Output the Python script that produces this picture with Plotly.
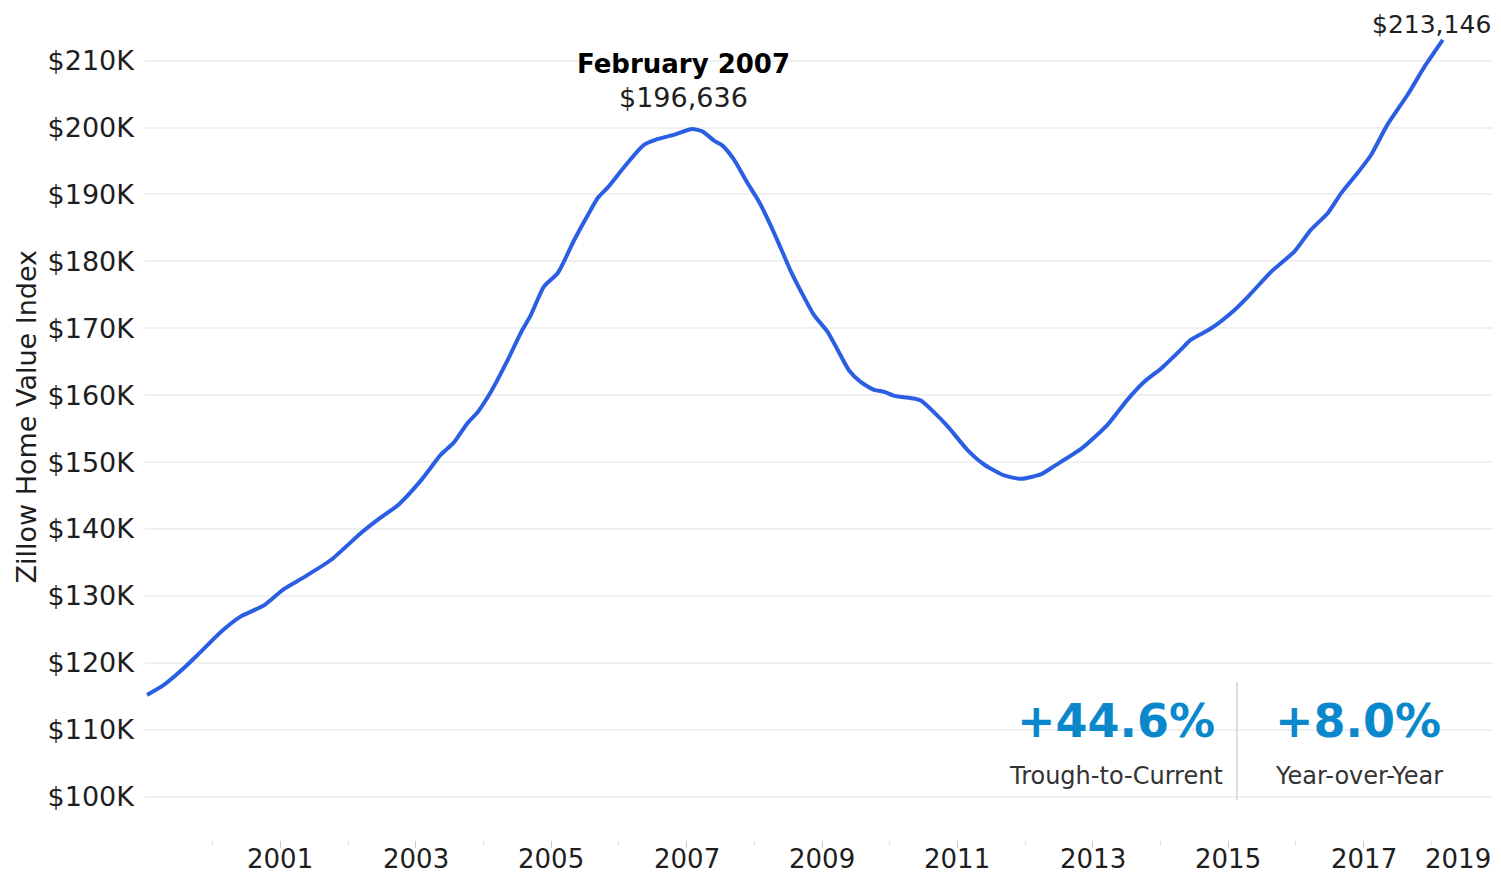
import plotly.graph_objects as go

# ---- data ----
years = [1999.03, 1999.28, 1999.53, 1999.78, 2000.12, 2000.41, 2000.76, 2001.05, 2001.35, 2001.75,
         2002.19, 2002.44, 2002.74, 2003.08, 2003.37, 2003.56, 2003.77, 2003.91, 2004.11, 2004.36,
         2004.55, 2004.70, 2004.89, 2005.10, 2005.34, 2005.54, 2005.69, 2005.84, 2006.07, 2006.37,
         2006.58, 2006.81, 2007.08, 2007.24, 2007.41, 2007.53, 2007.70, 2007.90, 2008.07, 2008.25,
         2008.39, 2008.54, 2008.69, 2008.88, 2009.08, 2009.23, 2009.40, 2009.57, 2009.77, 2009.92,
         2010.07, 2010.36, 2010.46, 2010.66, 2010.86, 2011.15, 2011.40, 2011.69, 2011.94, 2012.24,
         2012.43, 2012.83, 2013.22, 2013.51, 2013.76, 2014.01, 2014.30, 2014.45, 2014.75, 2015.09,
         2015.29, 2015.64, 2015.98, 2016.22, 2016.47, 2016.67, 2016.91, 2017.11, 2017.35, 2017.65,
         2017.90, 2018.17]
values_k = [115.2, 116.7, 118.8, 121.2, 124.6, 126.9, 128.6, 131.0, 132.8, 135.4,
            139.4, 141.4, 143.6, 147.3, 151.1, 152.9, 155.9, 157.4, 160.5, 165.3,
            169.3, 172.0, 176.2, 178.3, 183.2, 186.9, 189.5, 191.1, 194.0, 197.4,
            198.3, 198.9, 199.8, 199.4, 198.0, 197.3, 195.2, 191.7, 188.9, 185.2,
            182.0, 178.5, 175.5, 172.0, 169.5, 166.8, 163.7, 162.0, 160.8, 160.5,
            159.9, 159.5, 159.2, 157.4, 155.3, 151.8, 149.6, 148.0, 147.5, 148.2,
            149.4, 152.0, 155.6, 159.3, 162.0, 164.0, 166.8, 168.3, 170.0, 172.7,
            174.7, 178.5, 181.5, 184.7, 187.2, 190.2, 193.2, 195.9, 200.4, 204.9,
            209.1, 213.1]

y_tick_vals = [100, 110, 120, 130, 140, 150, 160, 170, 180, 190, 200, 210]
y_tick_text = ["$100K", "$110K", "$120K", "$130K", "$140K", "$150K", "$160K",
               "$170K", "$180K", "$190K", "$200K", "$210K"]
x_major_ticks = [2001, 2003, 2005, 2007, 2009, 2011, 2013, 2015, 2017, 2019]
x_major_text = ["2001", "2003", "2005", "2007", "2009", "2011", "2013", "2015", "2017", "2019"]
x_minor_ticks = [2000, 2002, 2004, 2006, 2008, 2010, 2012, 2014, 2016, 2018]

peak_label = "February 2007"
peak_value = "$196,636"
current_value = "$213,146"
stat1_value, stat1_label = "+44.6%", "Trough-to-Current"
stat2_value, stat2_label = "+8.0%", "Year-over-Year"

# ---- layout geometry (page has an 8px body margin; positions given in page pixels) ----
OFF = 8
W, H = 1493, 868
ML, MR, MT, MB = 137, 2, 12, 36
PW, PH = W - ML - MR, H - MT - MB
RIGHT_EDGE = 1492  # last visible page pixel column for right-aligned texts


def px(xp):
    return (xp - OFF - ML) / PW


def py(yp):
    return (H - MB - (yp - OFF)) / PH


FONT = "DejaVu Sans"
LINE = "#2b5fe3"
STAT = "#0b88cc"
TXT = "#1e1e1e"

fig = go.Figure()
fig.add_trace(go.Scatter(
    x=years, y=values_k, mode="lines",
    line=dict(color=LINE, width=4, shape="spline", smoothing=0.6),
    hoverinfo="skip", showlegend=False,
))

fig.update_layout(
    width=W, height=H,
    margin=dict(l=ML, r=MR, t=MT, b=MB, autoexpand=False),
    plot_bgcolor="white", paper_bgcolor="white",
    font=dict(family=FONT, color=TXT),
    showlegend=False,
    xaxis=dict(
        range=[1999, 2019], showgrid=False, zeroline=False, showline=False,
        automargin=False, showticklabels=False,
        tickmode="array", tickvals=x_major_ticks,
        ticks="outside", ticklen=7, tickcolor="#cccccc", tickwidth=1,
        minor=dict(tickmode="array", tickvals=x_minor_ticks, ticks="outside",
                   ticklen=4, tickcolor="#dddddd", tickwidth=1, showgrid=False),
        fixedrange=True,
    ),
    yaxis=dict(
        range=[93.51, 216.08], showgrid=True, gridcolor="#f0f0f0", gridwidth=1.5,
        zeroline=False, showline=False, automargin=False,
        tickmode="array", tickvals=y_tick_vals, ticktext=y_tick_text,
        ticks="", ticklabelstandoff=10,
        tickfont=dict(size=27, family=FONT, color=TXT),
        fixedrange=True,
    ),
)

# white panel behind the stats and separator
fig.add_shape(type="rect", xref="paper", yref="paper",
              x0=px(994), x1=px(1479), y0=py(812), y1=py(672),
              fillcolor="white", line=dict(width=0), layer="between")
fig.add_shape(type="line", xref="paper", yref="paper",
              x0=px(1237), x1=px(1237), y0=py(800), y1=py(682),
              line=dict(color="#dddddd", width=2), layer="above")

# x tick labels drawn as annotations so they sit where the reference has them
XLAB_Y = 875  # bottom of the label box, page pixels
for val, txt in zip(x_major_ticks, x_major_text):
    if val == x_major_ticks[-1]:
        fig.add_annotation(xref="paper", yref="paper", x=px(RIGHT_EDGE), y=py(XLAB_Y),
                           xanchor="right", yanchor="bottom", showarrow=False, text=txt,
                           borderpad=0, font=dict(size=26, family=FONT, color=TXT))
    else:
        fig.add_annotation(xref="x", yref="paper", x=val, y=py(XLAB_Y),
                           xanchor="center", yanchor="bottom", showarrow=False, text=txt,
                           borderpad=0, font=dict(size=26, family=FONT, color=TXT))

ann = []
ann.append(dict(text="Zillow Home Value Index", textangle=-90, x=px(9), y=py(417),
                xanchor="left", borderpad=0,
                font=dict(size=27, family=FONT, color=TXT)))
ann.append(dict(text="<b>" + peak_label + "</b>", x=px(683), y=py(64),
                font=dict(size=26, family=FONT, color="#000000")))
ann.append(dict(text=peak_value, x=px(683), y=py(98),
                font=dict(size=27, family=FONT, color=TXT)))
ann.append(dict(text=current_value, x=px(RIGHT_EDGE), y=py(9), xanchor="right",
                yanchor="top", borderpad=0, font=dict(size=25, family=FONT, color=TXT)))
ann.append(dict(text="<b>" + stat1_value + "</b>", x=px(1116), y=py(721),
                font=dict(size=46, family=FONT, color=STAT)))
ann.append(dict(text=stat1_label, x=px(1116), y=py(776),
                font=dict(size=24, family=FONT, color="#333333")))
ann.append(dict(text="<b>" + stat2_value + "</b>", x=px(1358), y=py(721),
                font=dict(size=46, family=FONT, color=STAT)))
ann.append(dict(text=stat2_label, x=px(1359), y=py(776),
                font=dict(size=24, family=FONT, color="#333333")))

for a in ann:
    a.setdefault("xanchor", "center")
    a.setdefault("yanchor", "middle")
    fig.add_annotation(xref="paper", yref="paper", showarrow=False, **a)

fig.write_html("out.html", config={"displayModeBar": False})
